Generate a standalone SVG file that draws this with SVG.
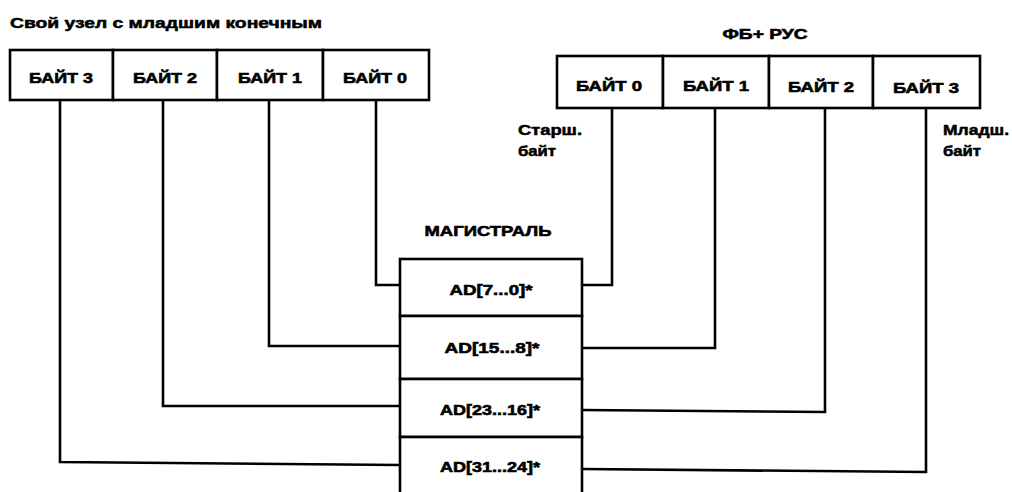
<svg xmlns="http://www.w3.org/2000/svg" width="1012" height="492" viewBox="0 0 1012 492">
<style>
.box{fill:#fff;stroke:#000;stroke-width:2.6}
.t{font-family:"Liberation Sans",Arial,sans-serif;font-weight:bold;font-size:15px;fill:#000;stroke:#000;stroke-width:0.6;text-anchor:middle}
.l{font-family:"Liberation Sans",Arial,sans-serif;font-weight:bold;font-size:14px;fill:#000;stroke:#000;stroke-width:0.5}
.c{fill:none;stroke:#000;stroke-width:2.6}
</style>
<rect width="1012" height="492" fill="#fff"/>
<text class="l" x="10" y="28" textLength="312" lengthAdjust="spacingAndGlyphs">Свой узел с младшим конечным</text>
<text class="t" x="765" y="39" textLength="85" lengthAdjust="spacingAndGlyphs">ФБ+ РУС</text>
<text class="t" x="488" y="236" textLength="127" lengthAdjust="spacingAndGlyphs">МАГИСТРАЛЬ</text>
<text class="l" x="518" y="135" textLength="64" lengthAdjust="spacingAndGlyphs">Старш.</text>
<text class="l" x="518" y="156" textLength="38" lengthAdjust="spacingAndGlyphs">байт</text>
<text class="l" x="943" y="135" textLength="66" lengthAdjust="spacingAndGlyphs">Младш.</text>
<text class="l" x="943" y="156" textLength="38" lengthAdjust="spacingAndGlyphs">байт</text>
<g id="connectors">
<polyline class="c" points="376,100 376,285 400,285"/>
<polyline class="c" points="269,100 269,346 400,346"/>
<polyline class="c" points="163,100 163,406 400,406"/>
<polyline class="c" points="60,100 60,462 400,465"/>
<polyline class="c" points="612,108 612,285 582,285"/>
<polyline class="c" points="715,108 715,348 582,348"/>
<polyline class="c" points="825,108 825,412 582,410"/>
<polyline class="c" points="926,108 926,472 582,469"/>
</g>
<g id="left-node">
<g id="L3"><rect class="box" x="10" y="50" width="103" height="50"/><text class="t" x="61" y="83" textLength="64" lengthAdjust="spacingAndGlyphs">БАЙТ 3</text></g>
<g id="L2"><rect class="box" x="113" y="50" width="104" height="50"/><text class="t" x="165" y="83" textLength="64" lengthAdjust="spacingAndGlyphs">БАЙТ 2</text></g>
<g id="L1"><rect class="box" x="217" y="50" width="106" height="50"/><text class="t" x="270" y="83" textLength="64" lengthAdjust="spacingAndGlyphs">БАЙТ 1</text></g>
<g id="L0"><rect class="box" x="323" y="50" width="106" height="50"/><text class="t" x="375" y="83" textLength="64" lengthAdjust="spacingAndGlyphs">БАЙТ 0</text></g>
</g>
<g id="right-node">
<g id="R0"><rect class="box" x="557" y="56" width="106" height="52"/><text class="t" x="609" y="91" textLength="66" lengthAdjust="spacingAndGlyphs">БАЙТ 0</text></g>
<g id="R1"><rect class="box" x="663" y="56" width="106" height="52"/><text class="t" x="716" y="91" textLength="66" lengthAdjust="spacingAndGlyphs">БАЙТ 1</text></g>
<g id="R2"><rect class="box" x="769" y="56" width="104" height="52"/><text class="t" x="821" y="92" textLength="66" lengthAdjust="spacingAndGlyphs">БАЙТ 2</text></g>
<g id="R3"><rect class="box" x="873" y="56" width="107" height="52"/><text class="t" x="926" y="93" textLength="66" lengthAdjust="spacingAndGlyphs">БАЙТ 3</text></g>
</g>
<g id="bus">
<g id="B0"><rect class="box" x="400" y="259" width="182" height="57"/><text class="t" x="491" y="295" textLength="83" lengthAdjust="spacingAndGlyphs">AD[7...0]*</text></g>
<g id="B1"><rect class="box" x="400" y="316" width="182" height="63"/><text class="t" x="492" y="353" textLength="95" lengthAdjust="spacingAndGlyphs">AD[15...8]*</text></g>
<g id="B2"><rect class="box" x="400" y="379" width="182" height="58"/><text class="t" x="490" y="415" textLength="100" lengthAdjust="spacingAndGlyphs">AD[23...16]*</text></g>
<g id="B3"><rect class="box" x="400" y="437" width="182" height="60"/><text class="t" x="490" y="472" textLength="100" lengthAdjust="spacingAndGlyphs">AD[31...24]*</text></g>
</g>
</svg>
